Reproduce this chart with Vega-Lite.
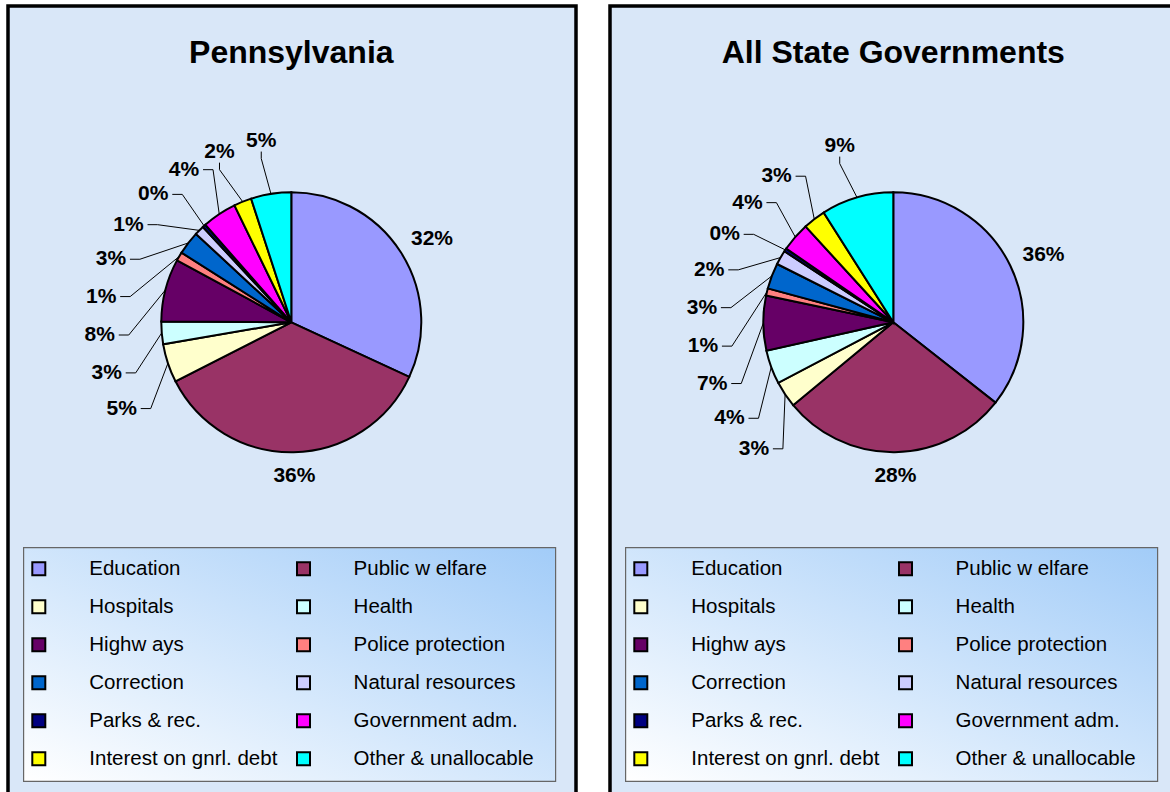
{
  "$schema": "https://vega.github.io/schema/vega-lite/v6.json",
  "padding": {"left": 6, "top": 4, "right": -9, "bottom": -4.5},
  "background": "white",
  "spacing": 30,
  "config": {"font": "Liberation Sans", "text": {"font": "Liberation Sans"}},
  "datasets": {
    "pa": [
      {"cat": "Education", "ord": 0, "value": 31.9},
      {"cat": "Public w elfare", "ord": 1, "value": 35.6},
      {"cat": "Hospitals", "ord": 2, "value": 4.8},
      {"cat": "Health", "ord": 3, "value": 2.8},
      {"cat": "Highw ays", "ord": 4, "value": 7.8},
      {"cat": "Police protection", "ord": 5, "value": 1.1},
      {"cat": "Correction", "ord": 6, "value": 2.9},
      {"cat": "Natural resources", "ord": 7, "value": 1.2},
      {"cat": "Parks & rec.", "ord": 8, "value": 0.4},
      {"cat": "Government adm.", "ord": 9, "value": 4.3},
      {"cat": "Interest on gnrl. debt", "ord": 10, "value": 2.2},
      {"cat": "Other & unallocable", "ord": 11, "value": 5.0}
    ],
    "all": [
      {"cat": "Education", "ord": 0, "value": 35.6},
      {"cat": "Public w elfare", "ord": 1, "value": 28.4},
      {"cat": "Hospitals", "ord": 2, "value": 3.3},
      {"cat": "Health", "ord": 3, "value": 4.2},
      {"cat": "Highw ays", "ord": 4, "value": 6.8},
      {"cat": "Police protection", "ord": 5, "value": 0.9},
      {"cat": "Correction", "ord": 6, "value": 3.2},
      {"cat": "Natural resources", "ord": 7, "value": 1.8},
      {"cat": "Parks & rec.", "ord": 8, "value": 0.4},
      {"cat": "Government adm.", "ord": 9, "value": 3.6},
      {"cat": "Interest on gnrl. debt", "ord": 10, "value": 2.8},
      {"cat": "Other & unallocable", "ord": 11, "value": 9.0}
    ]
  },
  "hconcat": [
    {
      "width": 568, "height": 789,
      "data": {"name": "pa"},
      "view": {"fill": "#d9e7f8", "stroke": "#000000", "strokeWidth": 3.5},
      "transform": [
        {"calculate": "datum.value / 100", "as": "frac"},
        {"window": [{"op": "sum", "field": "value", "as": "cum"}], "sort": [{"field": "ord", "order": "ascending"}], "frame": [null, 0]},
        {"calculate": "(datum.cum - datum.value / 2) * PI / 50", "as": "mid"},
        {"calculate": "360 - (datum.cum - datum.value / 2) * 3.6", "as": "ccw"},
        {"window": [{"op": "row_number", "as": "rn"}], "sort": [{"field": "ord", "order": "descending"}]},
        {"calculate": "datum.ccw - 12 * (datum.rn - 1)", "as": "t"},
        {"window": [{"op": "max", "field": "t", "as": "tmax"}], "sort": [{"field": "ord", "order": "descending"}], "frame": [null, 0]},
        {"calculate": "(360 - 12 * (datum.rn - 1) - datum.tmax) * PI / 180", "as": "la"},
        {"calculate": "datum.value >= 20 ? 145 : 175", "as": "ra"},
        {"calculate": "datum.value >= 10 ? 22 : 17", "as": "hw"},
        {"calculate": "(datum.ra + datum.hw) * sin(datum.la)", "as": "cx"},
        {"calculate": "(datum.ra + 9) * cos(datum.la)", "as": "cy"},
        {"calculate": "130 * sin(datum.mid)", "as": "ex"},
        {"calculate": "130 * cos(datum.mid)", "as": "ey"},
        {"calculate": "abs(sin(datum.la)) > 0.45", "as": "side"},
        {"calculate": "sin(datum.la) < 0 ? -1 : 1", "as": "sd"},
        {"calculate": "cos(datum.la) < 0 ? -1 : 1", "as": "cd"},
        {"calculate": "datum.side ? datum.cx - datum.sd * (datum.hw + 2) : datum.cx", "as": "ax"},
        {"calculate": "datum.side ? datum.cy : datum.cy - datum.cd * 11", "as": "ay"},
        {"calculate": "datum.side ? datum.ax - datum.sd * 10 : datum.ax", "as": "bx"},
        {"calculate": "datum.side ? datum.ay : datum.ay - datum.cd * 7", "as": "by"},
        {"calculate": "datum.ord % 2 == 0 ? -252.5 : 12.2", "as": "lx"},
        {"calculate": "datum.ord % 2 == 0 ? -202 : 62.3", "as": "tx"},
        {"calculate": "-(246.5 + 38 * floor(datum.ord / 2))", "as": "ly"}
      ],
      "layer": [
        {
          "transform": [{"aggregate": [{"op": "count", "as": "n"}]}],
          "mark": {"type": "rect", "fill": {"gradient": "linear", "x1": 0, "y1": 1, "x2": 1, "y2": 0, "stops": [{"offset": 0, "color": "#ffffff"}, {"offset": 1, "color": "#a2ccf8"}]}, "stroke": "#666666", "strokeWidth": 1.2},
          "encoding": {
            "x": {"datum": -267.7, "type": "quantitative", "scale": {"domain": [-283.3, 284.7], "nice": false, "zero": false}, "axis": null},
            "x2": {"datum": 264.3},
            "y": {"datum": -225.3, "type": "quantitative", "scale": {"domain": [-472.7, 316.3], "nice": false, "zero": false}, "axis": null},
            "y2": {"datum": -459}
          }
        },
        {
          "mark": {"type": "arc", "outerRadius": 130, "stroke": "#000000", "strokeWidth": 2},
          "encoding": {
            "theta": {"field": "value", "type": "quantitative", "stack": true},
            "order": {"field": "ord", "type": "quantitative", "sort": "ascending"},
            "color": {"field": "cat", "type": "nominal", "legend": null, "scale": {"domain": ["Education", "Public w elfare", "Hospitals", "Health", "Highw ays", "Police protection", "Correction", "Natural resources", "Parks & rec.", "Government adm.", "Interest on gnrl. debt", "Other & unallocable"], "range": ["#9999FF", "#993366", "#FFFFCC", "#CCFFFF", "#660066", "#FF8080", "#0066CC", "#CCCCFF", "#000080", "#FF00FF", "#FFFF00", "#00FFFF"]}},
            "x": {"datum": 0, "type": "quantitative", "scale": {"domain": [-283.3, 284.7], "nice": false, "zero": false}, "axis": null},
            "y": {"datum": 0, "type": "quantitative", "scale": {"domain": [-472.7, 316.3], "nice": false, "zero": false}, "axis": null}
          }
        },
        {
          "transform": [{"filter": "datum.value < 20"}],
          "mark": {"type": "rule", "color": "#000000", "strokeWidth": 1},
          "encoding": {
            "x": {"field": "ex", "type": "quantitative", "scale": {"domain": [-283.3, 284.7], "nice": false, "zero": false}, "axis": null},
            "y": {"field": "ey", "type": "quantitative", "scale": {"domain": [-472.7, 316.3], "nice": false, "zero": false}, "axis": null},
            "x2": {"field": "bx"},
            "y2": {"field": "by"}
          }
        },
        {
          "transform": [{"filter": "datum.value < 20"}],
          "mark": {"type": "rule", "color": "#000000", "strokeWidth": 1},
          "encoding": {
            "x": {"field": "bx", "type": "quantitative", "scale": {"domain": [-283.3, 284.7], "nice": false, "zero": false}, "axis": null},
            "y": {"field": "by", "type": "quantitative", "scale": {"domain": [-472.7, 316.3], "nice": false, "zero": false}, "axis": null},
            "x2": {"field": "ax"},
            "y2": {"field": "ay"}
          }
        },
        {
          "mark": {"type": "text", "fontSize": 21, "fontWeight": "bold", "align": "center", "baseline": "middle", "color": "#000000"},
          "encoding": {
            "x": {"field": "cx", "type": "quantitative", "scale": {"domain": [-283.3, 284.7], "nice": false, "zero": false}, "axis": null},
            "y": {"field": "cy", "type": "quantitative", "scale": {"domain": [-472.7, 316.3], "nice": false, "zero": false}, "axis": null},
            "text": {"field": "frac", "type": "quantitative", "format": ".0%"}
          }
        },
        {
          "mark": {"type": "point", "shape": "square", "size": 169, "filled": true, "opacity": 1, "stroke": "#000000", "strokeWidth": 2},
          "encoding": {
            "x": {"field": "lx", "type": "quantitative", "scale": {"domain": [-283.3, 284.7], "nice": false, "zero": false}, "axis": null},
            "y": {"field": "ly", "type": "quantitative", "scale": {"domain": [-472.7, 316.3], "nice": false, "zero": false}, "axis": null},
            "color": {"field": "cat", "type": "nominal", "legend": null}
          }
        },
        {
          "mark": {"type": "text", "fontSize": 20.5, "align": "left", "baseline": "middle", "color": "#000000"},
          "encoding": {
            "x": {"field": "tx", "type": "quantitative", "scale": {"domain": [-283.3, 284.7], "nice": false, "zero": false}, "axis": null},
            "y": {"field": "ly", "type": "quantitative", "scale": {"domain": [-472.7, 316.3], "nice": false, "zero": false}, "axis": null},
            "text": {"field": "cat", "type": "nominal"}
          }
        },
        {
          "transform": [{"aggregate": [{"op": "count", "as": "n"}]}],
          "mark": {"type": "text", "fontSize": 32, "fontWeight": "bold", "align": "center", "baseline": "alphabetic", "color": "#000000"},
          "encoding": {
            "x": {"datum": 0, "type": "quantitative", "scale": {"domain": [-283.3, 284.7], "nice": false, "zero": false}, "axis": null},
            "y": {"datum": 259.3, "type": "quantitative", "scale": {"domain": [-472.7, 316.3], "nice": false, "zero": false}, "axis": null},
            "text": {"value": "Pennsylvania"}
          }
        }
      ]
    },
    {
      "width": 568, "height": 789,
      "data": {"name": "all"},
      "view": {"fill": "#d9e7f8", "stroke": "#000000", "strokeWidth": 3.5},
      "transform": [
        {"calculate": "datum.value / 100", "as": "frac"},
        {"window": [{"op": "sum", "field": "value", "as": "cum"}], "sort": [{"field": "ord", "order": "ascending"}], "frame": [null, 0]},
        {"calculate": "(datum.cum - datum.value / 2) * PI / 50", "as": "mid"},
        {"calculate": "360 - (datum.cum - datum.value / 2) * 3.6", "as": "ccw"},
        {"window": [{"op": "row_number", "as": "rn"}], "sort": [{"field": "ord", "order": "descending"}]},
        {"calculate": "datum.ccw - 12 * (datum.rn - 1)", "as": "t"},
        {"window": [{"op": "max", "field": "t", "as": "tmax"}], "sort": [{"field": "ord", "order": "descending"}], "frame": [null, 0]},
        {"calculate": "(360 - 12 * (datum.rn - 1) - datum.tmax) * PI / 180", "as": "la"},
        {"calculate": "datum.value >= 20 ? 145 : 175", "as": "ra"},
        {"calculate": "datum.value >= 10 ? 22 : 17", "as": "hw"},
        {"calculate": "(datum.ra + datum.hw) * sin(datum.la)", "as": "cx"},
        {"calculate": "(datum.ra + 9) * cos(datum.la)", "as": "cy"},
        {"calculate": "130 * sin(datum.mid)", "as": "ex"},
        {"calculate": "130 * cos(datum.mid)", "as": "ey"},
        {"calculate": "abs(sin(datum.la)) > 0.45", "as": "side"},
        {"calculate": "sin(datum.la) < 0 ? -1 : 1", "as": "sd"},
        {"calculate": "cos(datum.la) < 0 ? -1 : 1", "as": "cd"},
        {"calculate": "datum.side ? datum.cx - datum.sd * (datum.hw + 2) : datum.cx", "as": "ax"},
        {"calculate": "datum.side ? datum.cy : datum.cy - datum.cd * 11", "as": "ay"},
        {"calculate": "datum.side ? datum.ax - datum.sd * 10 : datum.ax", "as": "bx"},
        {"calculate": "datum.side ? datum.ay : datum.ay - datum.cd * 7", "as": "by"},
        {"calculate": "datum.ord % 2 == 0 ? -252.5 : 12.2", "as": "lx"},
        {"calculate": "datum.ord % 2 == 0 ? -202 : 62.3", "as": "tx"},
        {"calculate": "-(246.5 + 38 * floor(datum.ord / 2))", "as": "ly"}
      ],
      "layer": [
        {
          "transform": [{"aggregate": [{"op": "count", "as": "n"}]}],
          "mark": {"type": "rect", "fill": {"gradient": "linear", "x1": 0, "y1": 1, "x2": 1, "y2": 0, "stops": [{"offset": 0, "color": "#ffffff"}, {"offset": 1, "color": "#a2ccf8"}]}, "stroke": "#666666", "strokeWidth": 1.2},
          "encoding": {
            "x": {"datum": -267.7, "type": "quantitative", "scale": {"domain": [-283.3, 284.7], "nice": false, "zero": false}, "axis": null},
            "x2": {"datum": 264.3},
            "y": {"datum": -225.3, "type": "quantitative", "scale": {"domain": [-472.7, 316.3], "nice": false, "zero": false}, "axis": null},
            "y2": {"datum": -459}
          }
        },
        {
          "mark": {"type": "arc", "outerRadius": 130, "stroke": "#000000", "strokeWidth": 2},
          "encoding": {
            "theta": {"field": "value", "type": "quantitative", "stack": true},
            "order": {"field": "ord", "type": "quantitative", "sort": "ascending"},
            "color": {"field": "cat", "type": "nominal", "legend": null, "scale": {"domain": ["Education", "Public w elfare", "Hospitals", "Health", "Highw ays", "Police protection", "Correction", "Natural resources", "Parks & rec.", "Government adm.", "Interest on gnrl. debt", "Other & unallocable"], "range": ["#9999FF", "#993366", "#FFFFCC", "#CCFFFF", "#660066", "#FF8080", "#0066CC", "#CCCCFF", "#000080", "#FF00FF", "#FFFF00", "#00FFFF"]}},
            "x": {"datum": 0, "type": "quantitative", "scale": {"domain": [-283.3, 284.7], "nice": false, "zero": false}, "axis": null},
            "y": {"datum": 0, "type": "quantitative", "scale": {"domain": [-472.7, 316.3], "nice": false, "zero": false}, "axis": null}
          }
        },
        {
          "transform": [{"filter": "datum.value < 20"}],
          "mark": {"type": "rule", "color": "#000000", "strokeWidth": 1},
          "encoding": {
            "x": {"field": "ex", "type": "quantitative", "scale": {"domain": [-283.3, 284.7], "nice": false, "zero": false}, "axis": null},
            "y": {"field": "ey", "type": "quantitative", "scale": {"domain": [-472.7, 316.3], "nice": false, "zero": false}, "axis": null},
            "x2": {"field": "bx"},
            "y2": {"field": "by"}
          }
        },
        {
          "transform": [{"filter": "datum.value < 20"}],
          "mark": {"type": "rule", "color": "#000000", "strokeWidth": 1},
          "encoding": {
            "x": {"field": "bx", "type": "quantitative", "scale": {"domain": [-283.3, 284.7], "nice": false, "zero": false}, "axis": null},
            "y": {"field": "by", "type": "quantitative", "scale": {"domain": [-472.7, 316.3], "nice": false, "zero": false}, "axis": null},
            "x2": {"field": "ax"},
            "y2": {"field": "ay"}
          }
        },
        {
          "mark": {"type": "text", "fontSize": 21, "fontWeight": "bold", "align": "center", "baseline": "middle", "color": "#000000"},
          "encoding": {
            "x": {"field": "cx", "type": "quantitative", "scale": {"domain": [-283.3, 284.7], "nice": false, "zero": false}, "axis": null},
            "y": {"field": "cy", "type": "quantitative", "scale": {"domain": [-472.7, 316.3], "nice": false, "zero": false}, "axis": null},
            "text": {"field": "frac", "type": "quantitative", "format": ".0%"}
          }
        },
        {
          "mark": {"type": "point", "shape": "square", "size": 169, "filled": true, "opacity": 1, "stroke": "#000000", "strokeWidth": 2},
          "encoding": {
            "x": {"field": "lx", "type": "quantitative", "scale": {"domain": [-283.3, 284.7], "nice": false, "zero": false}, "axis": null},
            "y": {"field": "ly", "type": "quantitative", "scale": {"domain": [-472.7, 316.3], "nice": false, "zero": false}, "axis": null},
            "color": {"field": "cat", "type": "nominal", "legend": null}
          }
        },
        {
          "mark": {"type": "text", "fontSize": 20.5, "align": "left", "baseline": "middle", "color": "#000000"},
          "encoding": {
            "x": {"field": "tx", "type": "quantitative", "scale": {"domain": [-283.3, 284.7], "nice": false, "zero": false}, "axis": null},
            "y": {"field": "ly", "type": "quantitative", "scale": {"domain": [-472.7, 316.3], "nice": false, "zero": false}, "axis": null},
            "text": {"field": "cat", "type": "nominal"}
          }
        },
        {
          "transform": [{"aggregate": [{"op": "count", "as": "n"}]}],
          "mark": {"type": "text", "fontSize": 32, "fontWeight": "bold", "align": "center", "baseline": "alphabetic", "color": "#000000"},
          "encoding": {
            "x": {"datum": 0, "type": "quantitative", "scale": {"domain": [-283.3, 284.7], "nice": false, "zero": false}, "axis": null},
            "y": {"datum": 259.3, "type": "quantitative", "scale": {"domain": [-472.7, 316.3], "nice": false, "zero": false}, "axis": null},
            "text": {"value": "All State Governments"}
          }
        }
      ]
    }
  ]
}
